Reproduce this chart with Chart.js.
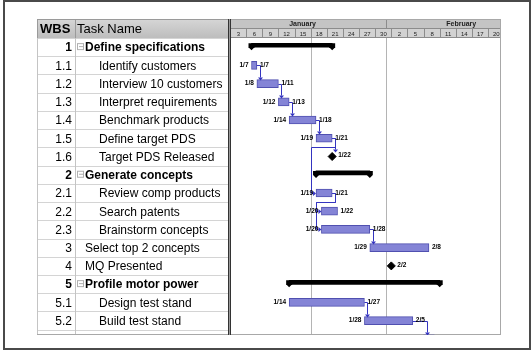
<!DOCTYPE html>
<html>
<head>
<meta charset="utf-8">
<script src="https://cdn.jsdelivr.net/npm/chart.js@4.4.1/dist/chart.umd.min.js"></script>
<style>
  html, body { margin: 0; padding: 0; background: #fff; }
  canvas { display: block; }
</style>
</head>
<body>
<canvas id="gantt" width="532" height="352"></canvas>
<script>
// task table
const wbs = ['1', '1.1', '1.2', '1.3', '1.4', '1.5', '1.6', '2', '2.1', '2.2', '2.3', '3', '4', '5', '5.1', '5.2', ''];
const taskNames = ['Define specifications', 'Identify customers', 'Interview 10 customers', 'Interpret requirements',
  'Benchmark products', 'Define target PDS', 'Target PDS Released', 'Generate concepts', 'Review comp products',
  'Search patents', 'Brainstorm concepts', 'Select top 2 concepts', 'MQ Presented', 'Profile motor power',
  'Design test stand', 'Build test stand', ''];
const outline = [0, 1, 1, 1, 1, 1, 1, 0, 1, 1, 1, 0, 0, 0, 1, 1, 1];
const summaryRows = [0, 7, 13];

// days counted from Jan 1 = 1 (Feb 1 = 32)
const taskRows   = [1, 2, 3, 4, 5, 8, 9, 10, 11, 14, 15, 16];
const taskStart  = [7, 8, 12, 14, 19, 19, 20, 20, 29, 14, 28, 39];
const taskFinish = [7, 11, 13, 18, 21, 21, 22, 28, 39, 27, 36, 40];

const summaryStart  = [7, 19, 14];
const summaryFinish = [21, 28, 41];

const milestoneRows = [6, 12];
const milestoneDays = [22, 33];

// predecessor row -> successor row
const links = [[1, 2], [2, 3], [3, 4], [4, 5], [5, 6], [5, 8], [8, 9], [8, 10], [10, 11], [14, 15], [15, 16]];

const months = ['January', 'February'];
const monthStart = [1, 32];
const monthEnd = [32, 60];
const tickDays = [3, 6, 9, 12, 15, 18, 21, 24, 27, 30, 33, 36, 39, 42, 45, 48, 51];
const tickLabels = ['3', '6', '9', '12', '15', '18', '21', '24', '27', '30', '2', '5', '8', '11', '14', '17', '20'];
const markerDays = [18, 32];

const FONT = '"Liberation Sans", Arial, sans-serif';
const BAR_FILL = '#8484d6';
const BAR_EDGE = '#5050b0';
const LINK = '#3434c0';

function dayLabel(d) {
  return d <= 31 ? '1/' + d : '2/' + (d - 31);
}

// start/end of what sits on each row, for the links
const span = {};
taskRows.forEach((r, i) => { span[r] = { start: taskStart[i], end: taskFinish[i] + 1, ms: false }; });
milestoneRows.forEach((r, i) => { span[r] = { start: milestoneDays[i], end: milestoneDays[i], ms: true }; });

const ganttDecor = {
  id: 'ganttDecor',
  beforeDraw(chart) {
    const ctx = chart.ctx;
    const xs = chart.scales.x, ys = chart.scales.y;
    const area = chart.chartArea;
    const top = area.top;
    ctx.save();
    ctx.fillStyle = '#fff';
    ctx.fillRect(0, 0, chart.width, chart.height);

    // table header
    const tL = 37, tR = 228, col = 75, hTop = 19;
    let g = ctx.createLinearGradient(0, hTop, 0, top);
    g.addColorStop(0, '#d6d6d6');
    g.addColorStop(1, '#bdbdbd');
    ctx.fillStyle = g;
    ctx.fillRect(tL, hTop, tR - tL, top - hTop);
    ctx.strokeStyle = '#9a9a9a';
    ctx.lineWidth = 1;
    ctx.strokeRect(tL + 0.5, hTop + 0.5, tR - tL, top - hTop);
    ctx.beginPath();
    ctx.moveTo(col + 0.5, hTop); ctx.lineTo(col + 0.5, top);
    ctx.stroke();
    ctx.fillStyle = '#000';
    ctx.textBaseline = 'middle';
    ctx.font = 'bold 13px ' + FONT;
    ctx.fillText('WBS', 40, (hTop + top) / 2 + 1);
    ctx.font = '13px ' + FONT;
    ctx.fillText('Task Name', 77, (hTop + top) / 2 + 1);

    // table rows
    ctx.strokeStyle = '#d4d4d4';
    for (let i = 0; i <= wbs.length; i++) {
      const y = Math.round(ys.getPixelForValue(i - 0.5)) + 0.5;
      if (y > area.bottom) break;
      ctx.beginPath();
      ctx.moveTo(tL, y); ctx.lineTo(tR, y);
      ctx.stroke();
    }
    ctx.strokeStyle = '#c4c4c4';
    ctx.beginPath();
    ctx.moveTo(col + 0.5, top); ctx.lineTo(col + 0.5, area.bottom);
    ctx.moveTo(tL + 0.5, top); ctx.lineTo(tL + 0.5, area.bottom);
    ctx.stroke();
    ctx.strokeStyle = '#a8a8a8';
    ctx.beginPath();
    ctx.moveTo(tL, area.bottom - 0.5); ctx.lineTo(tR, area.bottom - 0.5);
    ctx.stroke();

    ctx.save();
    ctx.beginPath();
    ctx.rect(tL, top, tR - tL, area.bottom - top);
    ctx.clip();
    for (let i = 0; i < wbs.length; i++) {
      const y = ys.getPixelForValue(i) + 1;
      const summary = summaryRows.includes(i);
      ctx.font = (summary ? 'bold ' : '') + '12px ' + FONT;
      ctx.fillStyle = '#000';
      ctx.textAlign = 'right';
      ctx.fillText(wbs[i], 72, y);
      ctx.textAlign = 'left';
      const x = outline[i] === 0 ? 85 : 99;
      if (summary) {
        ctx.strokeStyle = '#b0b0b0';
        ctx.strokeRect(77.5, y - 4.5, 6, 6);
        ctx.beginPath();
        ctx.moveTo(79, y - 1.5); ctx.lineTo(83, y - 1.5);
        ctx.stroke();
      }
      ctx.fillText(taskNames[i], x, y);
    }
    ctx.restore();

    // gantt header tiers
    const monthBot = 28;
    ctx.save();
    ctx.beginPath();
    ctx.rect(area.left, hTop, area.right - area.left, top - hTop);
    ctx.clip();
    ctx.fillStyle = '#c4c4c4';
    ctx.fillRect(area.left, hTop, area.right - area.left, monthBot - hTop);
    ctx.fillStyle = '#d2d2d2';
    ctx.fillRect(area.left, monthBot, area.right - area.left, top - monthBot);
    ctx.strokeStyle = '#8c8c8c';
    ctx.fillStyle = '#222';
    ctx.textAlign = 'center';
    ctx.font = 'bold 7px ' + FONT;
    months.forEach((m, i) => {
      const x0 = xs.getPixelForValue(monthStart[i]);
      const x1 = xs.getPixelForValue(monthEnd[i]);
      ctx.beginPath();
      ctx.moveTo(Math.round(x0) + 0.5, hTop); ctx.lineTo(Math.round(x0) + 0.5, monthBot);
      ctx.stroke();
      ctx.fillText(m, (x0 + x1) / 2, (hTop + monthBot) / 2 + 1);
    });
    ctx.font = '6px ' + FONT;
    tickDays.forEach((d, i) => {
      const x0 = Math.round(xs.getPixelForValue(d)) + 0.5;
      const x1 = xs.getPixelForValue(d + 3);
      ctx.beginPath();
      ctx.moveTo(x0, monthBot); ctx.lineTo(x0, top);
      ctx.stroke();
      ctx.fillText(tickLabels[i], (x0 + x1) / 2, (monthBot + top) / 2 + 1);
    });
    ctx.beginPath();
    ctx.moveTo(area.left, monthBot + 0.5); ctx.lineTo(area.right, monthBot + 0.5);
    ctx.moveTo(area.left, top - 0.5); ctx.lineTo(area.right, top - 0.5);
    ctx.moveTo(area.left, hTop + 0.5); ctx.lineTo(area.right, hTop + 0.5);
    ctx.stroke();
    ctx.restore();

    // gantt body frame and marker lines
    ctx.strokeStyle = '#b4b4b4';
    markerDays.forEach(d => {
      const x = Math.round(xs.getPixelForValue(d)) + 0.5;
      ctx.beginPath();
      ctx.moveTo(x, top); ctx.lineTo(x, area.bottom);
      ctx.stroke();
    });
    ctx.strokeStyle = '#a8a8a8';
    ctx.strokeRect(area.left + 0.5, hTop + 0.5, area.right - area.left - 1, area.bottom - hTop - 1);

    // splitter
    ctx.fillStyle = '#9a9a9a';
    ctx.fillRect(tR, hTop, 3, area.bottom - hTop);
    ctx.fillStyle = '#333';
    ctx.fillRect(tR, hTop, 1, area.bottom - hTop);
    ctx.fillRect(tR + 2, hTop, 1, area.bottom - hTop);
    ctx.restore();
  },
  afterDatasetsDraw(chart) {
    const ctx = chart.ctx;
    const xs = chart.scales.x, ys = chart.scales.y;
    const area = chart.chartArea;
    ctx.save();
    ctx.beginPath();
    ctx.rect(area.left + 3, area.top, area.right - area.left - 4, area.bottom - area.top);
    ctx.clip();

    // summary end caps
    ctx.fillStyle = '#000';
    summaryRows.forEach((r, i) => {
      const y = ys.getPixelForValue(r - 0.1);
      [summaryStart[i], summaryFinish[i] + 1].forEach(d => {
        const x = xs.getPixelForValue(d);
        ctx.beginPath();
        ctx.moveTo(x - 3, y - 2);
        ctx.lineTo(x + 3, y - 2);
        ctx.lineTo(x + 3, y + 2);
        ctx.lineTo(x, y + 5);
        ctx.lineTo(x - 3, y + 2);
        ctx.closePath();
        ctx.fill();
      });
    });

    // links
    ctx.strokeStyle = LINK;
    ctx.fillStyle = LINK;
    ctx.lineWidth = 1;
    links.forEach(([from, to]) => {
      const a = span[from], b = span[to];
      const x1 = xs.getPixelForValue(a.end), y1 = Math.round(ys.getPixelForValue(from)) + 0.5;
      const x2 = xs.getPixelForValue(b.start), y2 = Math.round(ys.getPixelForValue(to)) + 0.5;
      const half = b.ms ? 5 : 4;
      ctx.beginPath();
      if (x2 >= x1 - 1) {
        const xd = Math.round(Math.max(x2 + 3, x1 + 3)) + 0.5;
        ctx.moveTo(x1, y1); ctx.lineTo(xd, y1); ctx.lineTo(xd, y2 - half - 3);
        ctx.stroke();
        ctx.beginPath();
        ctx.moveTo(xd - 2.5, y2 - half - 3); ctx.lineTo(xd + 2.5, y2 - half - 3); ctx.lineTo(xd, y2 - half);
        ctx.closePath();
        ctx.fill();
      } else {
        const xr = Math.round(x1 + 3) + 0.5, xl = Math.round(x2 - 5) + 0.5;
        const ym = y1 + 9;
        ctx.moveTo(x1, y1); ctx.lineTo(xr, y1); ctx.lineTo(xr, ym);
        ctx.lineTo(xl, ym); ctx.lineTo(xl, y2); ctx.lineTo(x2 - 3, y2);
        ctx.stroke();
        ctx.beginPath();
        ctx.moveTo(x2 - 3, y2 - 2.5); ctx.lineTo(x2 - 3, y2 + 2.5); ctx.lineTo(x2, y2);
        ctx.closePath();
        ctx.fill();
      }
    });

    // date labels
    ctx.fillStyle = '#000';
    ctx.font = 'bold 6.5px ' + FONT;
    ctx.textBaseline = 'middle';
    taskRows.forEach((r, i) => {
      const y = ys.getPixelForValue(r);
      ctx.textAlign = 'right';
      ctx.fillText(dayLabel(taskStart[i]), xs.getPixelForValue(taskStart[i]) - 3, y);
      ctx.textAlign = 'left';
      ctx.fillText(dayLabel(taskFinish[i]), xs.getPixelForValue(taskFinish[i] + 1) + 3, y);
    });
    milestoneRows.forEach((r, i) => {
      ctx.textAlign = 'left';
      ctx.fillText(dayLabel(milestoneDays[i]), xs.getPixelForValue(milestoneDays[i]) + 6, ys.getPixelForValue(r) - 1);
    });
    ctx.restore();

    // outer frame
    ctx.save();
    ctx.strokeStyle = '#4a4a4a';
    ctx.lineWidth = 2;
    ctx.strokeRect(4, 1, 526, 348);
    ctx.restore();
  }
};

new Chart(document.getElementById('gantt'), {
  type: 'bar',
  data: {
    datasets: [
      {
        label: 'Tasks',
        data: taskRows.map((r, i) => ({ x: [taskStart[i], taskFinish[i] + 1], y: r })),
        backgroundColor: BAR_FILL,
        borderColor: BAR_EDGE,
        borderWidth: 1,
        borderSkipped: false,
        barThickness: 8
      },
      {
        label: 'Summary',
        data: summaryRows.map((r, i) => ({ x: [summaryStart[i], summaryFinish[i] + 1], y: r - 0.1 })),
        backgroundColor: '#000',
        borderWidth: 0,
        barThickness: 4
      },
      {
        type: 'scatter',
        label: 'Milestones',
        data: milestoneRows.map((r, i) => ({ x: milestoneDays[i], y: r })),
        pointStyle: 'rectRot',
        pointRadius: 4,
        backgroundColor: '#000',
        borderColor: '#000'
      }
    ]
  },
  options: {
    indexAxis: 'y',
    responsive: false,
    animation: false,
    datasets: { bar: { grouped: false } },
    layout: { padding: { left: 230, right: 31, top: 38, bottom: 17 } },
    scales: {
      x: { type: 'linear', min: 3, max: 53.4, offset: false, grid: { offset: false }, display: false },
      y: { type: 'linear', min: -0.5, max: 15.79, reverse: true, offset: false, grid: { offset: false }, display: false }
    },
    plugins: {
      legend: { display: false },
      tooltip: { enabled: false }
    }
  },
  plugins: [ganttDecor]
});
</script>
</body>
</html>
